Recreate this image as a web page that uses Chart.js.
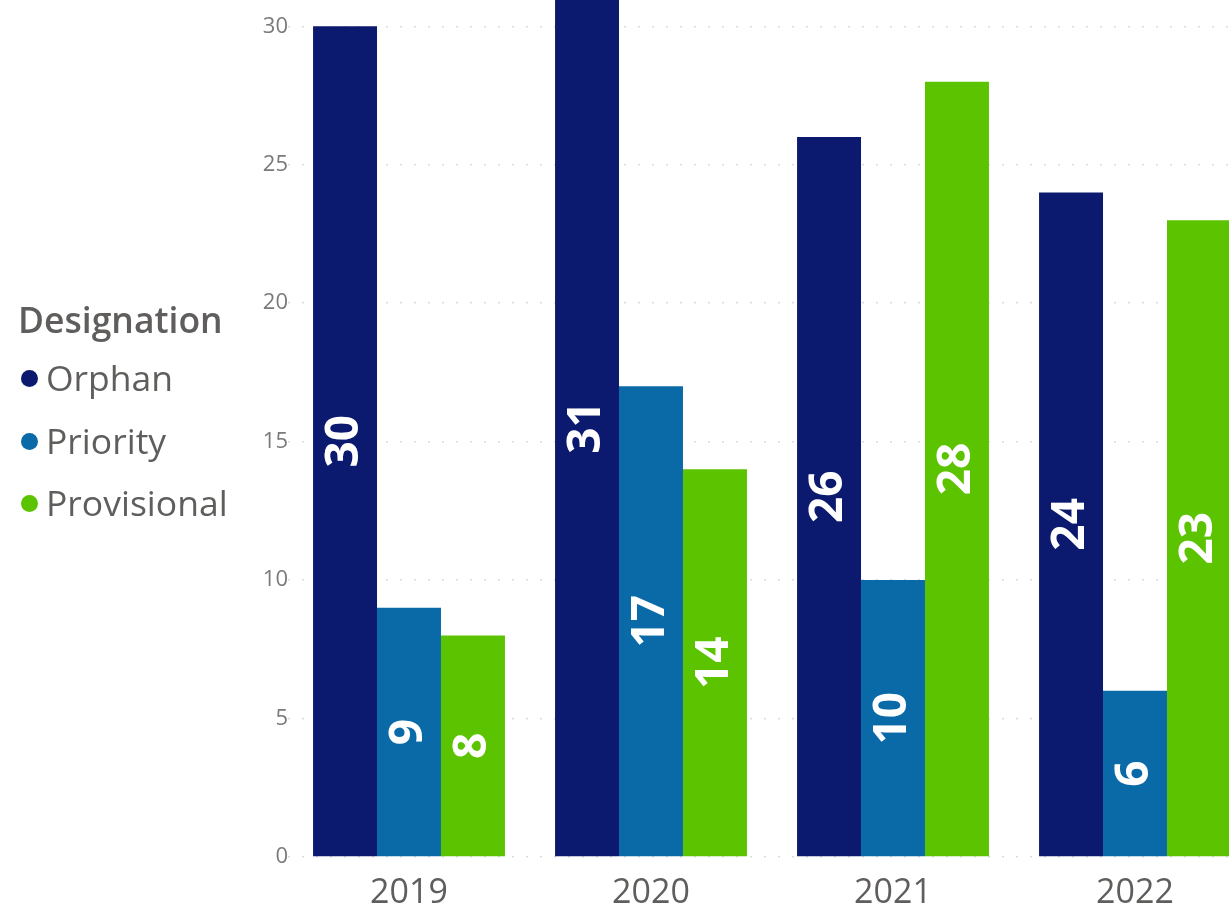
<!DOCTYPE html>
<html>
<head>
<meta charset="utf-8">
<title>Designations by year</title>
<script src="https://cdn.jsdelivr.net/npm/chart.js@4/dist/chart.umd.min.js"></script>
<style>
  html, body { margin: 0; padding: 0; background: #fff; overflow: hidden; width: 1229px; height: 910px; }
  #wrap { position: absolute; left: 0; top: 0; width: 1256px; height: 910px; }
  #legend { position: absolute; left: 0; top: 0; font-family: "Open Sans", sans-serif; color: #605e5c; }
  #legend .title { position: absolute; left: 18px; top: 297px; font-size: 35.5px; font-weight: 600; line-height: 44px; white-space: nowrap; }
  #legend .item { position: absolute; left: 21px; font-size: 35.5px; line-height: 44px; white-space: nowrap; }
  #legend .dot { display: inline-block; width: 17px; height: 17px; border-radius: 50%; margin-right: 8px; vertical-align: middle; position: relative; top: -3px; }
</style>
</head>
<body>
<div id="wrap"><canvas id="chart"></canvas></div>
<div id="legend"></div>
<script>
// Designation counts per year
const years = ['2019', '2020', '2021', '2022'];
const orphan = [30, 31, 26, 24];
const priority = [9, 17, 10, 6];
const provisional = [8, 14, 28, 23];
const yTicks = [0, 5, 10, 15, 20, 25, 30];

const seriesNames = ['Orphan', 'Priority', 'Provisional'];
const seriesColors = ['#0b1a6e', '#0a6aa8', '#5bc300'];
const seriesData = [orphan, priority, provisional];

// legend on the left
const legend = document.getElementById('legend');
const title = document.createElement('div');
title.className = 'title';
title.textContent = 'Designation';
legend.appendChild(title);
seriesNames.forEach((name, i) => {
  const item = document.createElement('div');
  item.className = 'item';
  item.style.top = (355 + i * 62.5) + 'px';
  const dot = document.createElement('span');
  dot.className = 'dot';
  dot.style.background = seriesColors[i];
  item.appendChild(dot);
  item.appendChild(document.createTextNode(name));
  legend.appendChild(item);
});

// white rotated value labels centred in each bar
const barLabels = {
  id: 'barLabels',
  afterDatasetsDraw(chart) {
    const ctx = chart.ctx;
    chart.data.datasets.forEach((ds, i) => {
      chart.getDatasetMeta(i).data.forEach((bar, j) => {
        const p = bar.getProps(['x', 'y', 'base'], true);
        ctx.save();
        ctx.translate(p.x, (p.y + p.base) / 2);
        ctx.rotate(-Math.PI / 2);
        ctx.font = 'bold 46px "Open Sans"';
        ctx.fillStyle = '#ffffff';
        ctx.textAlign = 'center';
        ctx.textBaseline = 'middle';
        ctx.fillText(String(ds.data[j]), 0, 0);
        ctx.restore();
      });
    });
  }
};

new Chart(document.getElementById('chart'), {
  type: 'bar',
  data: {
    labels: years,
    datasets: seriesNames.map((name, i) => ({
      label: name,
      data: seriesData[i],
      backgroundColor: seriesColors[i],
      borderWidth: 0,
      categoryPercentage: 0.793,
      barPercentage: 1.0
    }))
  },
  options: {
    responsive: true,
    maintainAspectRatio: false,
    animation: false,
    layout: { padding: { left: -5, right: 0, top: 0, bottom: 0 } },
    plugins: {
      legend: { display: false },
      tooltip: { enabled: false }
    },
    scales: {
      x: {
        grid: { display: false },
        border: { display: false },
        ticks: {
          color: '#605e5c',
          font: { family: 'Open Sans', size: 34 },
          padding: 8,
          maxRotation: 0
        },
        afterFit(scale) {
          scale.height = 53;
          scale.paddingLeft = 0;
          scale.paddingRight = 0;
        }
      },
      y: {
        min: 0,
        max: 30.95,
        afterBuildTicks(scale) {
          scale.ticks = yTicks.map(v => ({ value: v }));
        },
        grid: { color: '#dcdcdc', lineWidth: 1.5, drawTicks: false },
        border: { display: false, dash: [2, 12] },
        ticks: {
          color: '#7a7a7a',
          font: { family: 'Open Sans', size: 22 },
          padding: 0
        },
        afterFit(scale) {
          scale.width = 293;
          scale.paddingTop = 0;
          scale.paddingBottom = 0;
        }
      }
    }
  },
  plugins: [barLabels]
});
</script>
</body>
</html>
